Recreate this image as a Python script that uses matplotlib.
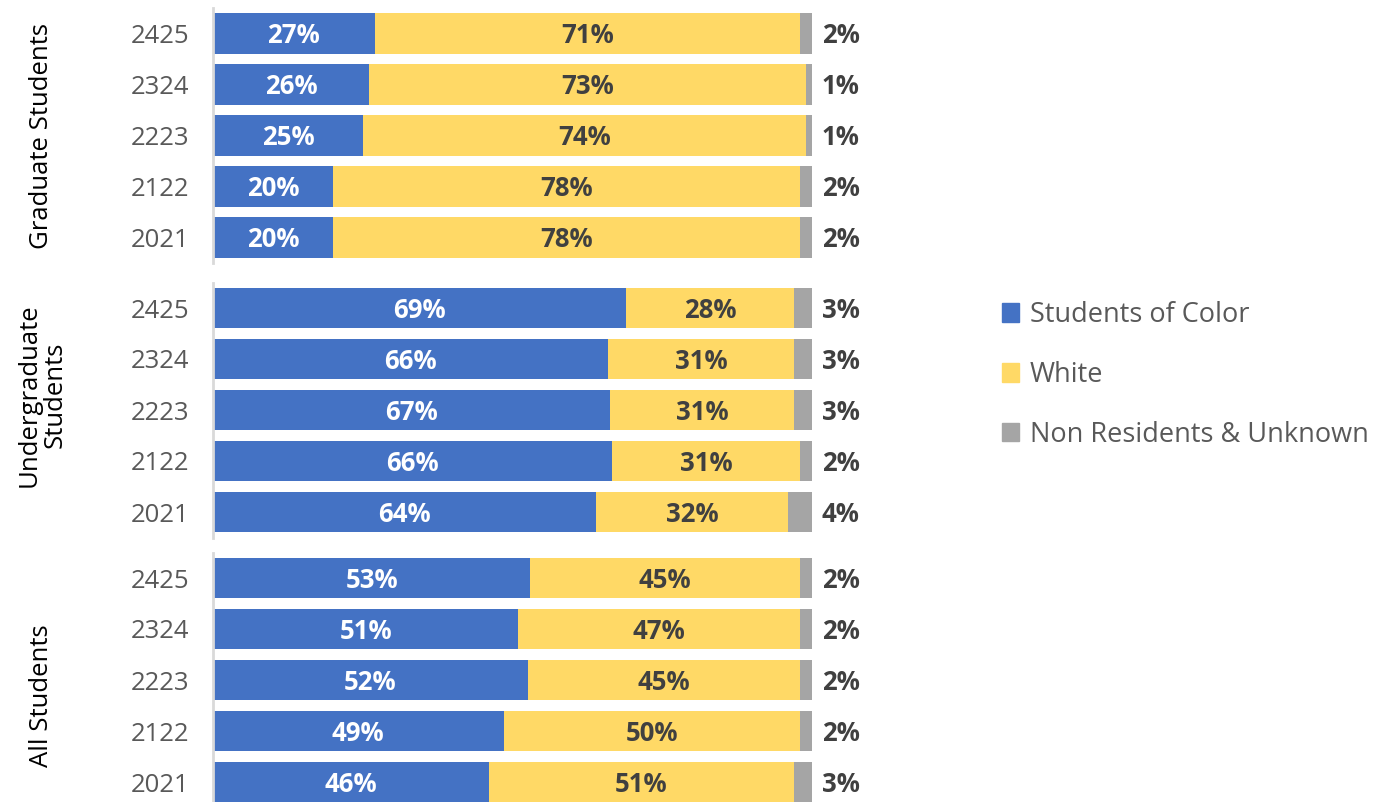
import numpy as np
import matplotlib
matplotlib.use("Agg")
import matplotlib.pyplot as plt
from matplotlib.patches import Patch

plt.rcParams['font.family'] = ['Open Sans', 'DejaVu Sans']

# data (percent shares), top row first
years = ['2425', '2324', '2223', '2122', '2021']

grad_soc = [27, 26, 25, 20, 20]
grad_white = [71, 73, 74, 78, 78]
grad_other = [2, 1, 1, 2, 2]

ug_soc = [69, 66, 67, 66, 64]
ug_white = [28, 31, 31, 31, 32]
ug_other = [3, 3, 3, 2, 4]

all_soc = [53, 51, 52, 49, 46]
all_white = [45, 47, 45, 50, 51]
all_other = [2, 2, 2, 2, 3]

groups = ['Graduate Students', 'Undergraduate\nStudents', 'All Students']
series = ['Students of Color', 'White', 'Non Residents & Unknown']

BLUE = '#4472C4'
YELLOW = '#FFD966'
GRAY = '#A5A5A5'
DARK = '#404040'
TICK = '#595959'

W, H = 1385, 802
fig = plt.figure(figsize=(W / 100, H / 100), dpi=100)

# panel extents in pixels (top, bottom)
panels = [(8, 263), (282.5, 537.5), (552.5, 807.5)]
data = [(grad_soc, grad_white, grad_other),
        (ug_soc, ug_white, ug_other),
        (all_soc, all_white, all_other)]
label_y = [136, 395, 696]

FS = 18.5
left, right = 213, 812
for (top, bot), (soc, wht, oth), name, ly in zip(panels, data, groups, label_y):
    ax = fig.add_axes([left / W, 1 - bot / H, (right - left) / W, (bot - top) / H])
    soc = np.array(soc, float)
    wht = np.array(wht, float)
    oth = np.array(oth, float)
    tot = soc + wht + oth
    s1, s2, s3 = soc / tot, wht / tot, oth / tot
    y = np.arange(len(years))
    h = 0.79
    ax.barh(y, s1, height=h, color=BLUE)
    ax.barh(y, s2, left=s1, height=h, color=YELLOW)
    ax.barh(y, s3, left=s1 + s2, height=h, color=GRAY)
    for i in range(len(years)):
        ax.annotate(f'{soc[i]:.0f}%', (s1[i] / 2, y[i]), xytext=(0, -1.5),
                    textcoords='offset points', ha='center', va='center',
                    color='white', fontsize=FS, fontweight='bold')
        ax.annotate(f'{wht[i]:.0f}%', (s1[i] + s2[i] / 2, y[i]), xytext=(0, -1.5),
                    textcoords='offset points', ha='center', va='center',
                    color=DARK, fontsize=FS, fontweight='bold')
        ax.annotate(f'{oth[i]:.0f}%', (1, y[i]), xytext=(7, -1.5),
                    textcoords='offset points', ha='left', va='center',
                    color=DARK, fontsize=FS, fontweight='bold',
                    annotation_clip=False)
    ax.set_xlim(0, 1)
    ax.set_ylim(len(years) - 0.5, -0.5)
    ax.set_yticks(y)
    ax.set_yticklabels(years, fontsize=FS, color=TICK)
    ax.tick_params(axis='y', length=0, pad=17)
    ax.set_xticks([])
    for s in ['top', 'right', 'bottom']:
        ax.spines[s].set_visible(False)
    ax.spines['left'].set_color('#D9D9D9')
    ax.spines['left'].set_linewidth(2)
    fig.text(42 / W, 1 - ly / H, name, rotation=90, ha='center', va='center',
             fontsize=FS, color='black', linespacing=1.05)

handles = [Patch(color=c) for c in (BLUE, YELLOW, GRAY)]
fig.legend(handles, series, loc='center left', bbox_to_anchor=(988 / W, 1 - 375 / H),
           frameon=False, fontsize=19.5, labelcolor=TICK, handlelength=0.65,
           handleheight=0.65, handletextpad=0.4, labelspacing=1.18, borderpad=0)

fig.savefig('out.png', dpi=100)
